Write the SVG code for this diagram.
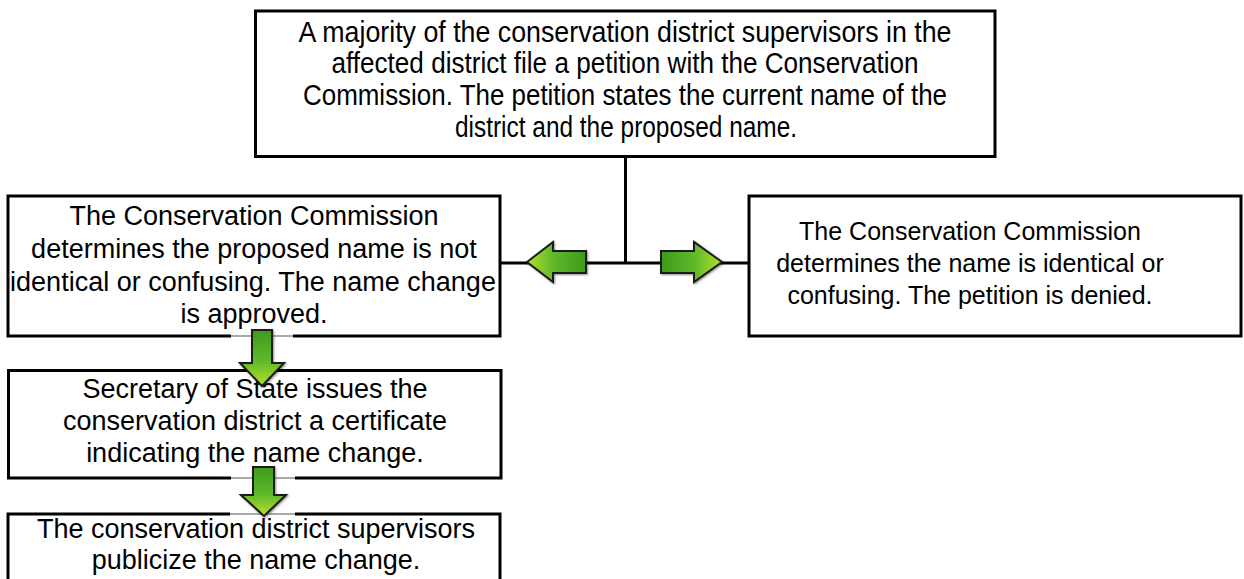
<svg xmlns="http://www.w3.org/2000/svg" width="1244" height="579" viewBox="0 0 1244 579">
  <style>
    .box { fill: #ffffff; stroke: #000000; stroke-width: 3; }
    .wire { fill: none; stroke: #000000; stroke-width: 3; }
    .txt { font-family: "Liberation Sans", Arial, sans-serif; fill: #000000; text-anchor: middle; }
    .narrow { font-family: "Liberation Sans Narrow", "Liberation Sans", Arial, sans-serif; fill: #000000; text-anchor: middle; }
    .arrow { stroke: #1a1a1a; stroke-width: 2; stroke-linejoin: miter; filter: url(#soft); }
    .gap { fill: #ffffff; stroke: none; }
    .thin { stroke: #555555; stroke-width: 1.2; }
  </style>
  <defs>
    <filter id="soft" x="-30%" y="-30%" width="160%" height="160%">
      <feDropShadow dx="1" dy="1" stdDeviation="1" flood-color="#000000" flood-opacity="0.45"/>
    </filter>
    <linearGradient id="gLeft" x1="1" y1="0" x2="0" y2="0">
      <stop offset="0" stop-color="#3f9a1c"/>
      <stop offset="0.55" stop-color="#5fb82a"/>
      <stop offset="1" stop-color="#b6e02a"/>
    </linearGradient>
    <linearGradient id="gRight" x1="0" y1="0" x2="1" y2="0">
      <stop offset="0" stop-color="#3f9a1c"/>
      <stop offset="0.55" stop-color="#5fb82a"/>
      <stop offset="1" stop-color="#b6e02a"/>
    </linearGradient>
    <linearGradient id="gDown" x1="0" y1="0" x2="0" y2="1">
      <stop offset="0" stop-color="#3f9a1c"/>
      <stop offset="0.55" stop-color="#5fb82a"/>
      <stop offset="1" stop-color="#b6e02a"/>
    </linearGradient>
  </defs>

  <!-- connectors -->
  <g id="connectors">
    <line class="wire" x1="625.5" y1="156" x2="625.5" y2="263"/>
    <line class="wire" x1="500" y1="263" x2="749" y2="263"/>
  </g>

  <!-- petition box -->
  <g id="node-petition">
    <rect class="box" x="255.5" y="11" width="739.5" height="145.5"/>
    <text class="narrow" font-size="29" x="625" y="42" textLength="653" lengthAdjust="spacingAndGlyphs">A majority of the conservation district supervisors in the</text>
    <text class="narrow" font-size="29" x="625" y="73" textLength="587" lengthAdjust="spacingAndGlyphs">affected district file a petition with the Conservation</text>
    <text class="narrow" font-size="29" x="625" y="105" textLength="644" lengthAdjust="spacingAndGlyphs">Commission. The petition states the current name of the</text>
    <text class="narrow" font-size="29" x="626" y="137" textLength="342" lengthAdjust="spacingAndGlyphs">district and the proposed name.</text>
  </g>

  <!-- approved box -->
  <g id="node-approved">
    <rect class="box" x="8" y="196" width="492" height="140"/>
    <text class="txt" font-size="27" x="254" y="225">The Conservation Commission</text>
    <text class="txt" font-size="27" x="254" y="258">determines the proposed name is not</text>
    <text class="txt" font-size="27" x="253" y="291">identical or confusing. The name change</text>
    <text class="txt" font-size="27" x="254" y="323">is approved.</text>
  </g>

  <!-- denied box -->
  <g id="node-denied">
    <rect class="box" x="749" y="196" width="492" height="140"/>
    <text class="txt" font-size="25" x="970" y="240">The Conservation Commission</text>
    <text class="txt" font-size="25" x="970" y="272">determines the name is identical or</text>
    <text class="txt" font-size="25" x="970" y="304">confusing. The petition is denied.</text>
  </g>

  <!-- certificate box -->
  <g id="node-certificate">
    <rect class="box" x="8.5" y="370.5" width="492.5" height="107.5"/>
    <text class="txt" font-size="27" x="255" y="398">Secretary of State issues the</text>
    <text class="txt" font-size="27" x="255" y="430">conservation district a certificate</text>
    <text class="txt" font-size="27" x="255" y="462">indicating the name change.</text>
  </g>

  <!-- publicize box -->
  <g id="node-publicize">
    <rect class="box" x="8" y="514" width="492" height="80"/>
    <text class="txt" font-size="27" x="256" y="538">The conservation district supervisors</text>
    <text class="txt" font-size="27" x="256" y="569">publicize the name change.</text>
  </g>

  <!-- arrow icons -->
  <g id="arrow-left">
    <polygon class="arrow" fill="url(#gLeft)" points="527,262 553,242 553,251 586,251 586,273 553,273 553,282"/>
  </g>
  <g id="arrow-right">
    <polygon class="arrow" fill="url(#gRight)" points="722,262 694,242 694,251 661,251 661,273 694,273 694,282"/>
  </g>
  <g id="arrow-down-1">
    <rect class="gap" x="231" y="334" width="62" height="4"/>
    <line class="thin" x1="231" y1="336" x2="293" y2="336"/>
    <polygon class="arrow" fill="url(#gDown)" points="262,386 240,363 252,363 252,330 272,330 272,363 284,363"/>
  </g>
  <g id="arrow-down-2">
    <rect class="gap" x="231" y="476" width="64" height="4"/>
    <line class="thin" x1="231" y1="478" x2="295" y2="478"/>
    <rect class="gap" x="230" y="512" width="65" height="4"/>
    <line class="thin" x1="230" y1="514" x2="295" y2="514"/>
    <polygon class="arrow" fill="url(#gDown)" points="264,516 241,495 253,495 253,467 274,467 274,495 286,495"/>
  </g>
</svg>
